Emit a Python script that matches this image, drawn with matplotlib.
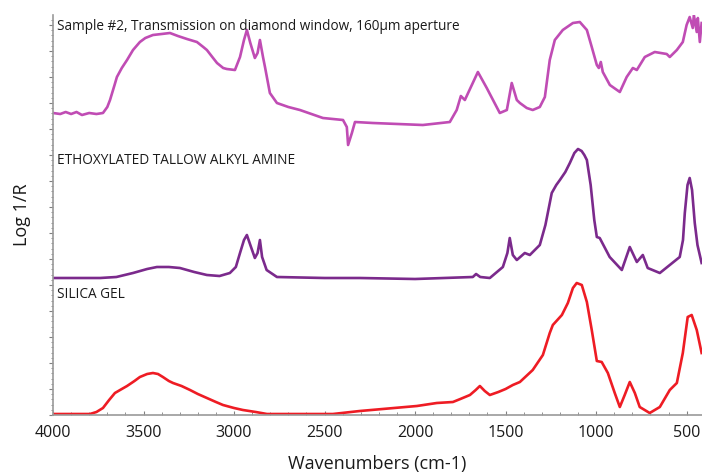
import numpy as np
import matplotlib
matplotlib.use("Agg")
import matplotlib.pyplot as plt
from matplotlib.ticker import MultipleLocator, AutoMinorLocator

# spectra (wavenumber, log 1/R in arbitrary stacked units)
sample_wn = [4000, 3960, 3930, 3900, 3870, 3840, 3800, 3760, 3724, 3700, 3685, 3660, 3647, 3620,
             3591, 3558, 3520, 3490, 3448, 3400, 3354, 3310, 3260, 3205, 3170, 3150, 3120,
             3094, 3060, 3040, 2995, 2967, 2945, 2929, 2910, 2885, 2870, 2857, 2840, 2829,
             2802, 2763, 2700, 2636, 2509, 2398, 2377, 2370, 2349, 2332, 2233, 1957, 1808,
             1770, 1747, 1725, 1653, 1604, 1532, 1493, 1466, 1438, 1421, 1383, 1350, 1311,
             1283, 1256, 1228, 1184, 1128, 1090, 1051, 1024, 996, 985, 974, 963, 924, 869,
             831, 797, 775, 731, 676, 610, 593, 554, 521, 500, 483, 466, 460, 444, 438, 427,
             417]
sample_val = [3.02, 3.01, 3.03, 3.01, 3.03, 3.00, 3.02, 3.01, 3.02, 3.08, 3.15, 3.30, 3.38, 3.47,
              3.55, 3.65, 3.73, 3.77, 3.80, 3.81, 3.82, 3.79, 3.76, 3.73, 3.68, 3.65, 3.58,
              3.52, 3.47, 3.46, 3.45, 3.58, 3.75, 3.85, 3.72, 3.57, 3.62, 3.75, 3.58, 3.48,
              3.22, 3.12, 3.08, 3.05, 2.97, 2.95, 2.88, 2.70, 2.82, 2.93, 2.92, 2.90, 2.93,
              3.05, 3.19, 3.15, 3.43, 3.27, 3.02, 3.05, 3.32, 3.15, 3.12, 3.07, 3.05, 3.08,
              3.18, 3.55, 3.75, 3.85, 3.92, 3.93, 3.85, 3.68, 3.50, 3.47, 3.53, 3.43, 3.30, 3.23,
              3.38, 3.47, 3.45, 3.58, 3.63, 3.61, 3.58, 3.65, 3.73, 3.90, 3.98, 3.87, 4.00, 3.83,
              3.97, 3.73, 3.92]

amine_wn = [4000, 3740, 3650, 3558, 3480, 3426, 3360, 3299, 3220, 3150, 3080, 3023, 2990, 2967,
            2945, 2929, 2910, 2885, 2870, 2857, 2845, 2820, 2763, 2500, 2305, 2000, 1681, 1663,
            1640, 1587, 1515, 1490, 1477, 1460, 1438, 1394, 1366, 1311, 1280, 1245, 1220, 1200,
            1170, 1145, 1120, 1100, 1080, 1065, 1051, 1030, 1010, 996, 980, 925, 858, 814, 775,
            742, 715, 648, 593, 538, 520, 510, 495, 483, 470, 455, 440, 417]
amine_val = [1.37, 1.37, 1.38, 1.42, 1.46, 1.48, 1.48, 1.47, 1.43, 1.40, 1.39, 1.42, 1.48, 1.62,
             1.75, 1.80, 1.70, 1.57, 1.62, 1.75, 1.58, 1.45, 1.38, 1.37, 1.37, 1.36, 1.38, 1.41,
             1.38, 1.37, 1.48, 1.62, 1.77, 1.60, 1.55, 1.62, 1.60, 1.70, 1.90, 2.22, 2.30, 2.35,
             2.43, 2.52, 2.62, 2.66, 2.64, 2.60, 2.55, 2.30, 1.95, 1.78, 1.77, 1.58, 1.45, 1.68,
             1.53, 1.60, 1.47, 1.42, 1.50, 1.58, 1.75, 2.02, 2.30, 2.37, 2.25, 1.92, 1.70, 1.52]

silica_wn = [4000, 3796, 3760, 3724, 3690, 3658, 3620, 3591, 3550, 3520, 3480, 3448, 3420, 3393,
             3360, 3337, 3290, 3243, 3200, 3150, 3100, 3061, 3000, 2951, 2880, 2818, 2454, 2305,
             1990, 1880, 1791, 1750, 1697, 1665, 1642, 1615, 1587, 1540, 1500, 1460, 1421, 1350,
             1294, 1256, 1239, 1189, 1156, 1128, 1107, 1079, 1051, 1024, 996, 969, 935, 897,
             869, 842, 814, 786, 759, 704, 648, 593, 554, 521, 494, 472, 444, 417]
silica_val = [0.01, 0.01, 0.03, 0.07, 0.15, 0.22, 0.26, 0.29, 0.34, 0.38, 0.41, 0.42, 0.41, 0.38,
              0.34, 0.32, 0.29, 0.25, 0.21, 0.17, 0.13, 0.10, 0.07, 0.05, 0.03, 0.01, 0.01, 0.04,
              0.09, 0.12, 0.13, 0.16, 0.20, 0.25, 0.29, 0.24, 0.20, 0.23, 0.26, 0.30, 0.33, 0.45,
              0.60, 0.82, 0.90, 1.00, 1.12, 1.27, 1.32, 1.30, 1.13, 0.85, 0.54, 0.53, 0.42, 0.22,
              0.08, 0.20, 0.33, 0.22, 0.08, 0.02, 0.08, 0.25, 0.32, 0.62, 0.98, 1.00, 0.85, 0.62]

labels = ["Sample #2, Transmission on diamond window, 160\u00b5m aperture",
          "ETHOXYLATED TALLOW ALKYL AMINE",
          "SILICA GEL"]
label_y = [3.88, 2.54, 1.20]

plt.rcParams['font.family'] = ['Open Sans', 'DejaVu Sans']

fig = plt.figure(figsize=(7.02, 4.72), dpi=100)
ax = fig.add_axes([53 / 702, 1 - 415 / 472, 1 - 53 / 702, 400 / 472])

ax.plot(sample_wn, sample_val, color="#c04cb4", lw=1.9, solid_joinstyle="round")
ax.plot(amine_wn, amine_val, color="#7b2a8c", lw=1.9, solid_joinstyle="round")
ax.plot(silica_wn, silica_val, color="#ee1c24", lw=1.9, solid_joinstyle="round")

for txt, y in zip(labels, label_y):
    ax.text(3978, y, txt, fontsize=9.85, va="center", ha="left", color="#1a1a1a")

ax.set_xlim(4000, 415)
ax.set_ylim(0, 4.0)
ax.xaxis.set_major_locator(MultipleLocator(500))
ax.xaxis.set_minor_locator(MultipleLocator(100))
ax.yaxis.set_major_locator(MultipleLocator(0.26))
ax.yaxis.set_minor_locator(AutoMinorLocator(5))
ax.set_yticklabels([])

for s in ["top", "right"]:
    ax.spines[s].set_visible(False)
for s in ["left", "bottom"]:
    ax.spines[s].set_color("#9a9a9a")
    ax.spines[s].set_linewidth(1.2)

ax.tick_params(axis="x", which="major", direction="in", length=3, color="#808080",
               labelsize=11.5, pad=7, labelcolor="#1a1a1a")
ax.tick_params(axis="x", which="minor", direction="in", length=2, color="#808080")
ax.tick_params(axis="y", which="major", direction="out", length=3, color="#808080")
ax.tick_params(axis="y", which="minor", direction="out", length=1.5, color="#808080")

ax.set_xlabel("Wavenumbers (cm-1)", fontsize=13, color="#1a1a1a", labelpad=10)
ax.set_ylabel("Log 1/R", fontsize=13, color="#1a1a1a", labelpad=9)

fig.savefig("out.png", dpi=100)
